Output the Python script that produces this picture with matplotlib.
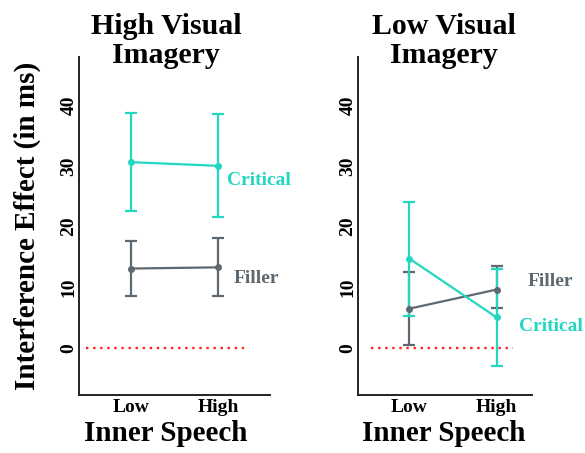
import numpy as np
import matplotlib
matplotlib.use("Agg")
import matplotlib.pyplot as plt

plt.rcParams['font.family'] = ['Liberation Serif', 'DejaVu Serif']
plt.rcParams['font.weight'] = 'bold'

speech = ["Low", "High"]
x = np.array([1, 2])

# high visual imagery group
hi_crit = [30.6, 30.0]
hi_crit_lo = [22.5, 21.5]
hi_crit_hi = [38.7, 38.5]
hi_fill = [13.1, 13.3]
hi_fill_lo = [8.6, 8.6]
hi_fill_hi = [17.6, 18.1]

# low visual imagery group
lo_crit = [14.75, 5.05]
lo_crit_lo = [5.3, -3.0]
lo_crit_hi = [24.1, 13.1]
lo_fill = [6.5, 9.65]
lo_fill_lo = [0.55, 6.6]
lo_fill_hi = [12.55, 13.55]

teal = "#22d6c0"
grey = "#5e6870"

W, H = 585, 453
fig = plt.figure(figsize=(W / 100, H / 100), dpi=100)


def panel(px_left, px_right, xlim, title, title_x, crit, clo, chi, fill, flo, fhi,
          zero_span, crit_lab, fill_lab):
    ax = fig.add_axes([px_left / W, (H - 395) / H, (px_right - px_left) / W, (395 - 57) / H])
    for y, lo, hi, c in [(fill, flo, fhi, grey), (crit, clo, chi, teal)]:
        y = np.array(y)
        err = [y - np.array(lo), np.array(hi) - y]
        ax.errorbar(x, y, yerr=err, color=c, lw=1.6, marker='o', ms=4,
                    capsize=4, capthick=1.6, elinewidth=1.6, zorder=3)
    ax.hlines(0, zero_span[0], zero_span[1], colors="#ff2020", linestyles=(0, (1, 2)), lw=1.7)
    ax.set_xlim(*xlim)
    ax.set_ylim(-7.7, 47.9)
    ax.set_xticks(x)
    ax.set_xticklabels(speech, fontsize=14, fontweight='bold')
    ax.set_yticks([0, 10, 20, 30, 40])
    ax.set_yticklabels(["0", "10", "20", "30", "40"], rotation=90, va='center',
                       fontsize=14, fontweight='bold')
    ax.tick_params(axis='y', length=0, pad=1)
    ax.tick_params(axis='x', length=0, pad=3)
    for s in ["top", "right"]:
        ax.spines[s].set_visible(False)
    for s in ["left", "bottom"]:
        ax.spines[s].set_linewidth(1.4)
        ax.spines[s].set_color("#222222")
    ax.set_xlabel("Inner Speech", fontsize=21, fontweight='bold', labelpad=2)
    ax.xaxis.set_label_coords((title_x - px_left) / (px_right - px_left), -0.075)
    ax.text(crit_lab[0], crit_lab[1], "Critical", color=teal, fontsize=14,
            fontweight='bold', va='center', clip_on=False)
    ax.text(fill_lab[0], fill_lab[1], "Filler", color=grey, fontsize=14,
            fontweight='bold', va='center', clip_on=False)
    fig.text(title_x / W, 1 - 41 / H, title, ha='center', va='center',
             fontsize=21.5, fontweight='bold', linespacing=1.08)
    return ax


ax1 = panel(79, 270, (0.4, 2.6), "High Visual\nImagery", 166,
            hi_crit, hi_crit_lo, hi_crit_hi, hi_fill, hi_fill_lo, hi_fill_hi,
            (0.48, 2.3), (2.1, 27.6), (2.18, 11.4))
ax1.set_ylabel("Interference Effect (in ms)", fontsize=21, fontweight='bold', labelpad=14)

ax2 = panel(357.7, 531.7, (0.41, 2.4), "Low Visual\nImagery", 444,
            lo_crit, lo_crit_lo, lo_crit_hi, lo_fill, lo_fill_lo, lo_fill_hi,
            (0.56, 2.19), (2.25, 3.6), (2.35, 10.9))

fig.savefig("out.png", dpi=100)
